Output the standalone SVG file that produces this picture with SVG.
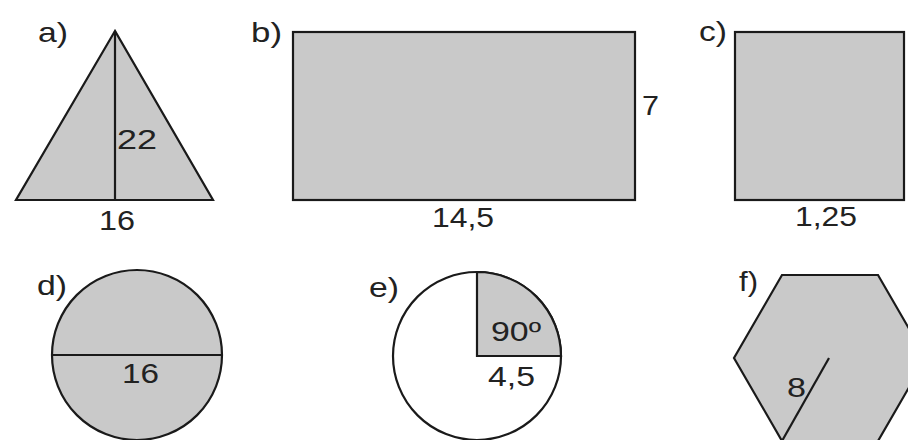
<svg xmlns="http://www.w3.org/2000/svg" width="908" height="440" viewBox="0 0 908 440">
<style>
.sh{fill:#c9c9c9;stroke:#1a1a1a;stroke-width:2.2;stroke-linejoin:miter}
.wh{fill:#ffffff;stroke:#1a1a1a;stroke-width:2.2}
.ln{fill:none;stroke:#1a1a1a;stroke-width:2.2}
text{font-family:"Liberation Sans",Arial,sans-serif;font-size:28px;fill:#222}
</style>
<rect width="908" height="440" fill="#ffffff"/>
<g id="fig-a">
<polygon class="sh" points="115,31 16,200 213,200"/>
<line class="ln" x1="115" y1="31" x2="115" y2="200"/>
<text x="38" y="42" textLength="30" lengthAdjust="spacingAndGlyphs">a)</text>
<text x="117" y="149" textLength="40" lengthAdjust="spacingAndGlyphs">22</text>
<text x="99" y="230" textLength="36" lengthAdjust="spacingAndGlyphs">16</text>
</g>
<g id="fig-b">
<rect class="sh" x="293" y="32" width="342" height="168"/>
<text x="251" y="42" textLength="31" lengthAdjust="spacingAndGlyphs">b)</text>
<text x="642" y="115" textLength="17" lengthAdjust="spacingAndGlyphs">7</text>
<text x="432" y="227" textLength="62" lengthAdjust="spacingAndGlyphs">14,5</text>
</g>
<g id="fig-c">
<rect class="sh" x="735" y="32" width="169" height="168"/>
<text x="699" y="41" textLength="28" lengthAdjust="spacingAndGlyphs">c)</text>
<text x="795" y="226" textLength="62" lengthAdjust="spacingAndGlyphs">1,25</text>
</g>
<g id="fig-d">
<circle class="sh" cx="137" cy="355" r="85"/>
<line class="ln" x1="52" y1="355" x2="222" y2="355"/>
<text x="37" y="295" textLength="30" lengthAdjust="spacingAndGlyphs">d)</text>
<text x="122" y="383" textLength="37" lengthAdjust="spacingAndGlyphs">16</text>
</g>
<g id="fig-e">
<circle class="wh" cx="477" cy="356" r="84"/>
<path class="sh" d="M477,356 L477,272 A84,84 0 0 1 561,356 Z"/>
<text x="369" y="297" textLength="30" lengthAdjust="spacingAndGlyphs">e)</text>
<text x="491" y="341" textLength="50" lengthAdjust="spacingAndGlyphs">90º</text>
<text x="488" y="386" textLength="47" lengthAdjust="spacingAndGlyphs">4,5</text>
</g>
<g id="fig-f">
<polygon class="sh" points="926,358 878,275 782,275 734,358 782,441 878,441"/>
<line class="ln" x1="782" y1="441" x2="829" y2="358"/>
<text x="739" y="291" textLength="19" lengthAdjust="spacingAndGlyphs">f)</text>
<text x="787" y="397" textLength="19" lengthAdjust="spacingAndGlyphs">8</text>
</g>
<g id="connectors"></g>
</svg>
